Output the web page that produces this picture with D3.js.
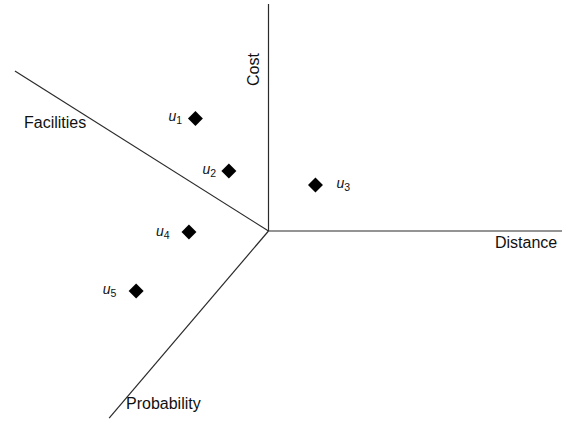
<!DOCTYPE html>
<html>
<head>
<meta charset="utf-8">
<script src="https://cdn.jsdelivr.net/npm/d3@7"></script>
<style>
html,body{margin:0;padding:0;background:#fff;}
svg{display:block;}
text{font-family:"Liberation Sans",Arial,sans-serif;fill:#111;}
</style>
</head>
<body>
<svg id="chart" width="569" height="424"></svg>
<script>
// Axes (in data units; origin at 0,0)
const axisNames = ["Cost", "Distance", "Facilities", "Probability"];
const axisEndX = [0, 100, -86.4, -54.3];
const axisEndY = [100, 0, 70.5, -82.4];

// Points
const pointNames = ["1", "2", "3", "4", "5"];
const pointX = [-24.9, -13.5, 16.0, -27.1, -45.1];
const pointY = [49.6, 26.4, 20.3, -0.4, -26.4];

// label layout (pixel offsets from point centre)
const labelDx = [-27, -26.5, 21, -33, -33.5];
const labelDy = [2.5, 3, 3, 4, 3];

const svg = d3.select("#chart");
const x = d3.scaleLinear().domain([0, 100]).range([268.5, 562]);
const y = d3.scaleLinear().domain([0, 100]).range([231, 4]);

const axes = axisNames.map((n, i) => ({name: n, x: axisEndX[i], y: axisEndY[i]}));
svg.append("g").selectAll("line").data(axes).join("line")
  .attr("x1", x(0)).attr("y1", y(0))
  .attr("x2", d => x(d.x)).attr("y2", d => y(d.y))
  .attr("stroke", "#2a2a2a").attr("stroke-width", 1.2);

// axis titles
const t = svg.append("g").attr("font-size", 16);
t.append("text").attr("transform", "translate(259,86) rotate(-90)").text(axisNames[0]);
t.append("text").attr("x", 495).attr("y", 248).text(axisNames[1]);
t.append("text").attr("x", 24).attr("y", 128).text(axisNames[2]);
t.append("text").attr("x", 126).attr("y", 409).text(axisNames[3]);

const pts = pointNames.map((n, i) => ({name: n, x: pointX[i], y: pointY[i], dx: labelDx[i], dy: labelDy[i]}));
const sym = d3.symbol(d3.symbolSquare, 112);
svg.append("g").selectAll("path").data(pts).join("path")
  .attr("d", sym)
  .attr("transform", d => `translate(${x(d.x)},${y(d.y)}) rotate(45)`)
  .attr("fill", "#000");

const lab = svg.append("g").selectAll("text").data(pts).join("text")
  .attr("x", d => x(d.x) + d.dx)
  .attr("y", d => y(d.y) + d.dy)
  .attr("font-size", 14);
lab.append("tspan").attr("font-style", "italic").text("u");
lab.append("tspan").attr("font-size", 10.5).attr("dy", 2.6).text(d => d.name);
</script>
</body>
</html>
